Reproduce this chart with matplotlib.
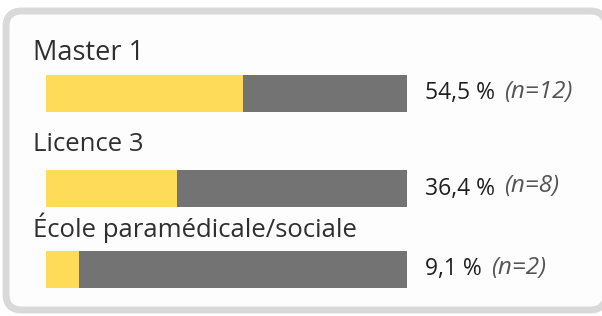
import matplotlib.pyplot as plt
from matplotlib.patches import FancyBboxPatch
from matplotlib.transforms import IdentityTransform

categories = ["Master 1", "Licence 3", "École paramédicale/sociale"]
percents = [54.5, 36.4, 9.1]
counts = [12, 8, 2]
value_labels = ["54,5 %", "36,4 %", "9,1 %"]

W, H = 602, 316
YELLOW = "#FEDC5A"
GREY = "#737373"
FONT = "Open Sans"

fig = plt.figure(figsize=(W / 100, H / 100), dpi=100)
fig.patch.set_facecolor("white")


def fx(x):
    return x / W


def fy(y):
    return 1 - y / H


# card with rounded grey border, behind everything
card = FancyBboxPatch((6, H - 310), 600, 299, boxstyle="round,pad=0,rounding_size=16",
                      linewidth=5, edgecolor="#d9d9d9", facecolor="#fdfdfd",
                      transform=IdentityTransform(), zorder=-10)
fig.patches.append(card)

# layout in pixels
bar_tops = [75, 170, 251]
bar_h = 37
label_y = [60, 151, 237]
label_size = [19.5, 18.5, 18.5]
bar_left, bar_right = 46, 407

renderer = fig.canvas.get_renderer()
for i, cat in enumerate(categories):
    ax = fig.add_axes([fx(bar_left), fy(bar_tops[i] + bar_h),
                       fx(bar_right - bar_left), bar_h / H])
    ax.barh(0, percents[i], height=1, color=YELLOW, linewidth=0)
    ax.barh(0, 100 - percents[i], left=percents[i], height=1, color=GREY, linewidth=0)
    ax.set_xlim(0, 100)
    ax.set_ylim(-0.5, 0.5)
    ax.axis("off")

    fig.text(fx(33), fy(label_y[i]), cat, fontsize=label_size[i], family=FONT,
             color="#2f2f2f", va="baseline", ha="left")
    yc = bar_tops[i] + bar_h / 2
    t = fig.text(fx(425), fy(yc), value_labels[i], fontsize=16.5, family=FONT,
                 color="#1f1f1f", va="center", ha="left")
    x_end = t.get_window_extent(renderer).x1
    fig.text(fx(x_end + 9), fy(yc - 2), "(n=%d)" % counts[i], fontsize=17.5,
             family=FONT, style="italic", color="#555555", va="center", ha="left")

fig.savefig("out.png", dpi=100)
